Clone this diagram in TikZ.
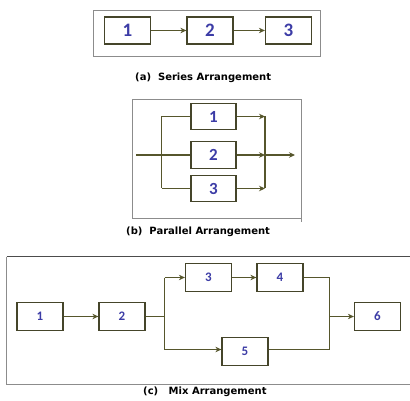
\documentclass[tikz,border=0pt]{standalone}
\usepackage{fontspec}
\setmainfont{DejaVu Sans}
\newfontfamily\numfont{Carlito}
\usetikzlibrary{arrows.meta}
\definecolor{boxline}{HTML}{45452A}
\definecolor{wire}{HTML}{56562C}
\definecolor{digit}{HTML}{3C3CA6}
\definecolor{frameg}{HTML}{8C8C8C}
\tikzset{
  blk/.style={draw=boxline, line width=1.25pt, fill=white, inner sep=0pt},
  bigblk/.style={blk, minimum width=46pt, minimum height=27pt, font=\numfont\bfseries\fontsize{19}{19}\selectfont, text=digit},
  midblk/.style={blk, minimum width=45pt, minimum height=26.5pt, font=\numfont\bfseries\fontsize{17}{17}\selectfont, text=digit},
  smlblk/.style={blk, minimum width=46pt, minimum height=28pt, font=\numfont\bfseries\fontsize{13}{13}\selectfont, text=digit},
  wir/.style={draw=wire, line width=1.25pt},
  arr/.style={wir, -{Stealth[length=6pt,width=5.5pt]}},
  frm/.style={draw=frameg, line width=0.9pt},
  captxt/.style={font=\bfseries\fontsize{10}{11}\selectfont, text=black, inner sep=0pt}
}
\begin{document}
\begin{tikzpicture}[x=1pt,y=-1pt]
\useasboundingbox (0,0) rectangle (410,401);

% (a) series
\draw[frm] (93.5,10) rectangle (320.5,56.5);
\node[bigblk] (a1) at (127.5,30.5) {1};
\node[bigblk] (a2) at (210,30.5) {2};
\node[bigblk] (a3) at (288.5,30.5) {3};
\draw[arr] (a1) -- (a2);
\draw[arr] (a2) -- (a3);
\node[captxt, anchor=west] (capa) at (135,78) {(a)\ \ Series Arrangement};

% (b) parallel
\draw[frm] (301.5,99.5) -- (132.5,99.5) -- (132.5,218.5) -- (301.5,218.5);
\draw[frm] (301.5,99.5) -- (301.5,222.5);
\node[midblk] (b1) at (213.5,116.5) {1};
\node[midblk] (b2) at (213.5,155) {2};
\node[midblk] (b3) at (213.5,188.5) {3};
\coordinate (bin) at (136,155);
\coordinate (bsT) at (161.5,116.5);
\coordinate (bsB) at (161.5,188.5);
\coordinate (bjT) at (265,116.5);
\coordinate (bjM) at (265,155);
\coordinate (bjB) at (265,188.5);
\coordinate (bout) at (295,155);
\draw[wir] (bsT) -- (bsB);
\draw[wir] (bin) -- (b2);
\draw[wir] (bsT) -- (b1);
\draw[wir] (bsB) -- (b3);
\draw[wir] (bjT) -- (bjB);
\draw[arr] (b1) -- (bjT);
\draw[arr] (b2) -- (bjM);
\draw[arr] (b3) -- (bjB);
\draw[arr] (bjM) -- (bout);
\node[captxt, anchor=west] (capb) at (126,232) {(b)\ \ Parallel Arrangement};

% (c) mixed
\draw[frm, draw=black!70] (6.5,256.5) -- (410,256.5);
\draw[frm] (6.5,256.5) -- (6.5,384.5) -- (410,384.5);
\node[smlblk] (c1) at (40,316.5) {1};
\node[smlblk] (c2) at (122,316.5) {2};
\node[smlblk] (c3) at (208.5,277.5) {3};
\node[smlblk] (c4) at (280,277.5) {4};
\node[smlblk] (c5) at (245,351.5) {5};
\node[smlblk] (c6) at (377.5,316.5) {6};
\coordinate (csT) at (164.5,277.5);
\coordinate (csM) at (164.5,316.5);
\coordinate (csB) at (164.5,349.5);
\coordinate (cjT) at (329.5,277.5);
\coordinate (cjM) at (329.5,316.5);
\coordinate (cjB) at (329.5,349.5);
\draw[arr] (c1) -- (c2);
\draw[wir] (c2) -- (csM);
\draw[wir] (csT) -- (csB);
\draw[arr] (csT) -- (c3);
\draw[arr] (csB) -- (c5.west |- csB);
\draw[arr] (c3) -- (c4);
\draw[wir] (c4) -- (cjT);
\draw[wir] (c5.east |- cjB) -- (cjB);
\draw[wir] (cjT) -- (cjB);
\draw[arr] (cjM) -- (c6);
\node[captxt, anchor=west] (capc) at (143,392) {(c)\ \ \ Mix Arrangement};
\end{tikzpicture}
\end{document}
